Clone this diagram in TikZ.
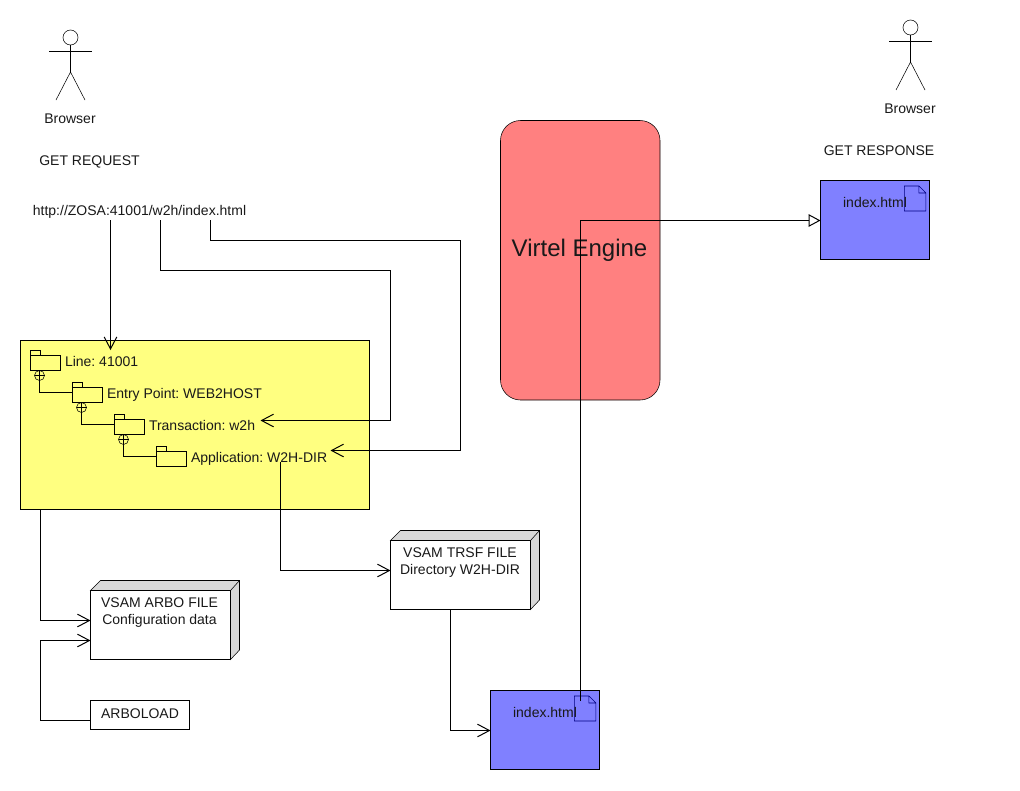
\documentclass[tikz,border=0pt]{standalone}
\usepackage{fontspec}
\setmainfont{Liberation Sans}
\frenchspacing
\usetikzlibrary{arrows.meta,calc}
\definecolor{yel}{HTML}{FFFF80}
\definecolor{blu}{HTML}{8080FF}
\definecolor{rd}{HTML}{FF8080}
\definecolor{gry}{HTML}{D8D8D8}
\definecolor{docb}{HTML}{000080}
\def\u{0.75pt}
\newcommand\actor[2]{% name, head centre
  \node[draw,circle,minimum size=15*\u,inner sep=0pt,outer sep=0pt,fill=white] (#1) at (#2) {};
  \draw (#1.south) -- ++(0,27) -- ++(-14.5,28) ++(14.5,-28) -- ++(14.5,28);
  \draw ([shift={(-21.5,6.5)}]#1.south) -- ++(43,0);
}
\newcommand\cube[1]{%
  \draw[fill=gry] (#1.north west) -- ++(10,-10) -- ++(139,0) -- ++(0,69.5) -- (#1.south east) -- (#1.north east) -- cycle;
  \draw (#1.north east) -- ++(9,-10);
}
\newcommand\docicon[1]{%
  \draw[docb] (#1.south west) -- (#1.north west) -- ([shift={(-7,0)}]#1.north east) -- ([shift={(0,7)}]#1.north east) -- (#1.south east) -- cycle
    ([shift={(-7,0)}]#1.north east) |- ([shift={(0,7)}]#1.north east);
}
\newcommand\folder[3]{% name, centre, label
  \node[pkg] (#1) at (#2) {};
  \draw (#1.north west) -- ++(0,-5) -- ++(10,0) -- ++(0,5);
  \node[txt,anchor=base west] (#1t) at ([shift={(4.5,3)}]#1.east) {#3};
}
\newcommand\plus[2]{%
  \node[draw,circle,minimum size=10*\u,inner sep=0pt,outer sep=0pt] (#1) at (#2) {};
  \draw (#1.west) -- (#1.east) (#1.north) -- (#1.south);
}
\tikzset{
  x=\u, y=-\u, line width=\u,
  txt/.style={inner sep=0pt,outer sep=0pt,font=\fontsize{10.5}{12.75}\selectfont,align=center,text=black!90},
  box/.style={draw,inner sep=0pt,outer sep=0pt,minimum width=#1*\u},
  pkg/.style={draw,inner sep=0pt,outer sep=0pt,minimum width=30*\u,minimum height=15*\u},
  docn/.style={inner sep=0pt,outer sep=0pt,minimum width=21.5*\u,minimum height=25*\u},
  barb/.style={-{Straight Barb[length=9pt,width=9.5pt,line width=\u]}},
  tri/.style={-{Triangle[open,fill=white,length=9pt,width=9.5pt,line width=\u]}},
}
\begin{document}
\begin{tikzpicture}
\useasboundingbox[fill=white] (0,0) rectangle (1020,790);
% actors and top texts
\actor{al}{70.5,37.5}
\node[txt] (bl) at (70,119) {Browser};
\node[txt] (req) at (89.5,161.5) {GET REQUEST};
\node[txt] (url) at (139.5,211.5) {http://ZOSA:41001/w2h/index.html};
\actor{ar}{910.5,27.5}
\node[txt] (br) at (910,109) {Browser};
\node[txt] (resp) at (879,151) {GET RESPONSE};
% engine
\node[draw,fill=rd,rounded corners=15pt,inner sep=0pt,outer sep=0pt,minimum width=159.5*\u,minimum height=279.5*\u] (eng) at (580.25,260.25) {};
\node[txt,font=\fontsize{18}{22}\selectfont] (engt) at (579.5,250.5) {Virtel Engine};
% yellow
\node[box=349,fill=yel,minimum height=169*\u] (yl) at (195,425) {};
\folder{f1}{45.5,363}{Line: 41001}
\folder{f2}{87.5,395}{Entry Point: WEB2HOST}
\folder{f3}{129.5,427}{Transaction: w2h}
\folder{f4}{171.5,459}{Application: W2H-DIR}
\plus{c1}{39.5,375.5}
\plus{c2}{81.5,407.5}
\plus{c3}{123.5,439.5}
\draw (c1.south) |- ([shift={(0,-2.5)}]f2.west);
\draw (c2.south) |- ([shift={(0,-2.5)}]f3.west);
\draw (c3.south) |- ([shift={(0,-2.5)}]f4.west);
% cubes
\node[box=140,fill=white,minimum height=69*\u] (arbo) at (160.5,625) {};
\cube{arbo}
\node[txt] (arbot) at (159.5,612.5) {VSAM ARBO FILE\\Configuration data};
\node[box=140,fill=white,minimum height=69*\u] (trsf) at (460.5,575) {};
\cube{trsf}
\node[txt] (trsft) at (460,562.5) {VSAM TRSF FILE\\Directory W2H-DIR};
\node[box=99,fill=white,minimum height=29*\u] (load) at (140,715) {};
\node[txt] (loadt) at (140,714) {ARBOLOAD};
% blue boxes
\node[box=109,fill=blu,minimum height=79*\u] (b1) at (875,220) {};
\node[docn] (d1) at (915.2,198.5) {};
\docicon{d1}
\node[txt] (b1t) at (875,202) {index.html};
\node[box=109,fill=blu,minimum height=79*\u] (b2) at (545,730) {};
\node[docn] (d2) at (585.2,708.5) {};
\docicon{d2}
\node[txt] (b2t) at (545,712) {index.html};
% connectors
\draw[barb] ([shift={(-29,8.5)}]url.center) -- ([shift={(90,9.5)}]yl.north west);
\draw[barb] ([shift={(21,8.5)}]url.center) |- ++(230,50.5) -- ++(0,150) -- ([shift={(116,-6.5)}]f3.east);
\draw[barb] ([shift={(71,8.5)}]url.center) |- ++(250,20.5) -- ++(0,210) -- ([shift={(144,-8.5)}]f4.east);
\draw[barb] ([shift={(94,3)}]f4.east) |- ([shift={(0,-4.5)}]trsf.west);
\draw[barb] ([shift={(20,0)}]yl.south west) |- ([shift={(0,-4.5)}]arbo.west);
\draw[barb] ([shift={(0,5.5)}]load.west) -- ++(-50,0) |- ([shift={(0,15.5)}]arbo.west);
\draw[barb] ([shift={(60,0)}]trsf.south west) |- ([shift={(0,.5)}]b2.west);
\draw[tri] ([shift={(-4.7,-7.5)}]d2.center) |- ([shift={(0,.5)}]b1.west);
\end{tikzpicture}
\end{document}
